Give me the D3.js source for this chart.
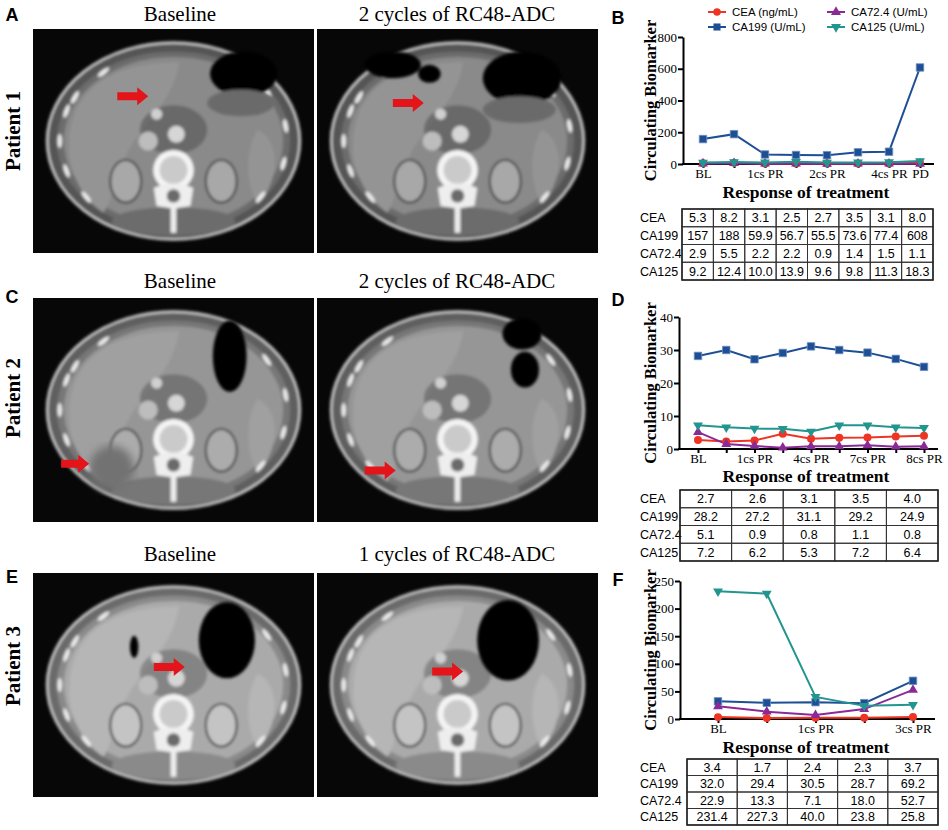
<!DOCTYPE html>
<html>
<head>
<meta charset="utf-8">
<script src="https://cdn.jsdelivr.net/npm/d3@7"></script>
<style>
  html, body { margin: 0; padding: 0; background: #fff; }
  svg { display: block; }
</style>
</head>
<body>
<div id="chart"></div>
<script>
// ---- data ----
const seriesNames = ['CEA', 'CA199', 'CA72.4', 'CA125'];
const legendNames = ['CEA (ng/mL)', 'CA199 (U/mL)', 'CA72.4 (U/mL)', 'CA125 (U/mL)'];

// patient 1
const p1Labels = ['BL', '', '1cs PR', '', '2cs PR', '', '4cs PR', 'PD'];
const p1CEA = [5.3, 8.2, 3.1, 2.5, 2.7, 3.5, 3.1, 8.0];
const p1CA199 = [157, 188, 59.9, 56.7, 55.5, 73.6, 77.4, 608];
const p1CA724 = [2.9, 5.5, 2.2, 2.2, 0.9, 1.4, 1.5, 1.1];
const p1CA125 = [9.2, 12.4, 10.0, 13.9, 9.6, 9.8, 11.3, 18.3];
const p1Ticks = [0, 200, 400, 600, 800];

// patient 2 (curve has 9 points, table lists the labelled ones)
const p2Labels = ['BL', '', '1cs PR', '', '4cs PR', '', '7cs PR', '', '8cs PR'];
const p2CEA = [2.7, 2.3, 2.6, 4.6, 3.1, 3.4, 3.5, 3.8, 4.0];
const p2CA199 = [28.2, 30.0, 27.2, 29.1, 31.1, 30.0, 29.2, 27.3, 24.9];
const p2CA724 = [5.1, 1.5, 0.9, 0.4, 0.8, 0.8, 1.1, 0.7, 0.8];
const p2CA125 = [7.2, 6.6, 6.2, 6.1, 5.3, 7.2, 7.2, 6.6, 6.4];
const p2Ticks = [0, 10, 20, 30, 40];
const p2TableCEA = ['2.7', '2.6', '3.1', '3.5', '4.0'];
const p2TableCA199 = ['28.2', '27.2', '31.1', '29.2', '24.9'];
const p2TableCA724 = ['5.1', '0.9', '0.8', '1.1', '0.8'];
const p2TableCA125 = ['7.2', '6.2', '5.3', '7.2', '6.4'];

// patient 3
const p3Labels = ['BL', '', '1cs PR', '', '3cs PR'];
const p3CEA = [3.4, 1.7, 2.4, 2.3, 3.7];
const p3CA199 = [32.0, 29.4, 30.5, 28.7, 69.2];
const p3CA724 = [22.9, 13.3, 7.1, 18.0, 52.7];
const p3CA125 = [231.4, 227.3, 40.0, 23.8, 25.8];
const p3Ticks = [0, 50, 100, 150, 200, 250];

const colors = ['#ee3524', '#1d4f95', '#8a2a96', '#23958f'];
const symbols = [d3.symbolCircle, d3.symbolSquare, d3.symbolTriangle, d3.symbolTriangle];

const serif = '"Liberation Serif", "Times New Roman", serif';
const sans = '"Liberation Sans", Arial, sans-serif';

// ---- canvas ----
const W = 948, H = 830;
const svg = d3.select('#chart').append('svg')
    .attr('width', W).attr('height', H)
    .attr('viewBox', [0, 0, W, H]);
const defs = svg.append('defs');
defs.append('filter').attr('id', 'soft')
    .append('feGaussianBlur').attr('stdDeviation', 1.4);
defs.append('filter').attr('id', 'soft2')
    .append('feGaussianBlur').attr('stdDeviation', 4);

// ---- CT slices (illustrative) ----
let ctCount = 0;
function drawCT(x, y, w, h, o) {
    const id = 'ctclip' + (++ctCount);
    defs.append('clipPath').attr('id', id)
        .append('rect').attr('width', w).attr('height', h);
    const g = svg.append('g')
        .attr('transform', `translate(${x},${y})`)
        .attr('clip-path', `url(#${id})`);
    const X = f => f * w, Y = f => f * h;

    g.append('rect').attr('width', w).attr('height', h).attr('fill', '#070707');

    const s = g.append('g').attr('filter', 'url(#soft)');
    // skin / subcutaneous fat
    s.append('ellipse')
        .attr('cx', X(.5)).attr('cy', Y(.5))
        .attr('rx', X(.45)).attr('ry', Y(.44))
        .attr('fill', o.fat).attr('stroke', '#cfcfcf').attr('stroke-width', 2.5);
    // abdominal wall
    s.append('ellipse')
        .attr('cx', X(.5)).attr('cy', Y(.5))
        .attr('rx', X(.415)).attr('ry', Y(.4))
        .attr('fill', o.wall);
    // cavity
    s.append('ellipse')
        .attr('cx', X(.5)).attr('cy', Y(.5))
        .attr('rx', X(.39)).attr('ry', Y(.375))
        .attr('fill', o.organ);
    // liver (brighter, right side of patient = left of image)
    s.append('path')
        .attr('d', `M${X(.13)},${Y(.5)} C${X(.14)},${Y(.25)} ${X(.3)},${Y(.15)} ${X(.52)},${Y(.15)}
                    C${X(.5)},${Y(.3)} ${X(.42)},${Y(.4)} ${X(.36)},${Y(.5)}
                    C${X(.3)},${Y(.6)} ${X(.28)},${Y(.78)} ${X(.25)},${Y(.82)}
                    C${X(.17)},${Y(.75)} ${X(.12)},${Y(.62)} ${X(.13)},${Y(.5)} Z`)
        .attr('fill', o.liver);
    // spleen
    s.append('path')
        .attr('d', `M${X(.8)},${Y(.45)} C${X(.88)},${Y(.5)} ${X(.88)},${Y(.68)} ${X(.8)},${Y(.78)}
                    C${X(.76)},${Y(.7)} ${X(.75)},${Y(.55)} ${X(.8)},${Y(.45)} Z`)
        .attr('fill', o.liver);
    // back muscles
    s.append('ellipse')
        .attr('cx', X(.5)).attr('cy', Y(.86))
        .attr('rx', X(.22)).attr('ry', Y(.065))
        .attr('fill', o.wall);
    // ribs along the rim
    const ribAngles = [-150, -128, -60, -35, -10, 15, 40, 140, 160, 180, 200];
    ribAngles.forEach(a => {
        const r = a * Math.PI / 180;
        const rx = X(.5) + Math.cos(r) * X(.405), ry = Y(.5) + Math.sin(r) * Y(.39);
        s.append('ellipse')
            .attr('cx', rx).attr('cy', ry)
            .attr('rx', 2.2).attr('ry', 7)
            .attr('transform', `rotate(${a},${rx},${ry})`)
            .attr('fill', '#ededed');
    });
    // mesenteric fat around the vessels
    s.append('ellipse')
        .attr('cx', X(.5)).attr('cy', Y(.45))
        .attr('rx', X(.12)).attr('ry', Y(.11))
        .attr('fill', o.fat).attr('opacity', .6);
    // kidneys
    [[.33, .68], [.67, .68]].forEach(([kx, ky]) => {
        s.append('ellipse')
            .attr('cx', X(kx)).attr('cy', Y(ky))
            .attr('rx', X(.055)).attr('ry', Y(.095))
            .attr('fill', o.kidney).attr('stroke', '#3e3e3e').attr('stroke-width', 2);
    });
    // aorta and IVC
    s.append('circle').attr('cx', X(.51)).attr('cy', Y(.47)).attr('r', X(.03)).attr('fill', '#d6d6d6');
    s.append('circle').attr('cx', X(.41)).attr('cy', Y(.5)).attr('r', X(.034)).attr('fill', '#bdbdbd');
    s.append('circle').attr('cx', X(.44)).attr('cy', Y(.38)).attr('r', X(.02)).attr('fill', '#d0d0d0');
    // vertebra
    s.append('circle').attr('cx', X(.5)).attr('cy', Y(.63)).attr('r', X(.072)).attr('fill', '#f4f4f4');
    s.append('circle').attr('cx', X(.5)).attr('cy', Y(.63)).attr('r', X(.05)).attr('fill', '#cacaca');
    s.append('path')
        .attr('d', `M${X(.43)},${Y(.71)} Q${X(.5)},${Y(.67)} ${X(.57)},${Y(.71)} L${X(.56)},${Y(.79)} L${X(.51)},${Y(.8)} L${X(.51)},${Y(.91)} L${X(.49)},${Y(.91)} L${X(.49)},${Y(.8)} L${X(.44)},${Y(.79)} Z`)
        .attr('fill', '#eeeeee');
    s.append('circle').attr('cx', X(.5)).attr('cy', Y(.745)).attr('r', X(.024)).attr('fill', '#6a6a6a');

    // lesion
    if (o.lesion) {
        g.append('ellipse')
            .attr('cx', X(o.lesion[0])).attr('cy', Y(o.lesion[1]))
            .attr('rx', X(o.lesion[2])).attr('ry', Y(o.lesion[3]))
            .attr('fill', '#727272').attr('filter', 'url(#soft2)');
    }
    // gas (stomach / bowel)
    const a = g.append('g').attr('filter', 'url(#soft)');
    o.air.forEach(([cx, cy, rx, ry]) => {
        a.append('ellipse')
            .attr('cx', X(cx)).attr('cy', Y(cy))
            .attr('rx', X(rx)).attr('ry', Y(ry))
            .attr('fill', '#050505');
    });
    if (o.fluid) {
        const [cx, cy, rx, ry] = o.fluid;
        a.append('ellipse')
            .attr('cx', X(cx)).attr('cy', Y(cy))
            .attr('rx', X(rx)).attr('ry', Y(ry))
            .attr('fill', '#6b6b6b');
    }

    // red arrow
    const [ax0, ax1, ay] = o.arrow;
    const x0 = X(ax0), x1 = X(ax1), yc = Y(ay);
    g.append('path')
        .attr('d', `M${x0},${yc - 4}L${x1 - 11},${yc - 4}L${x1 - 11},${yc - 9}L${x1},${yc}L${x1 - 11},${yc + 9}L${x1 - 11},${yc + 4}L${x0},${yc + 4}Z`)
        .attr('fill', '#e4141b');
}

const imgL = 33, imgR = 317, imgW = 281;
const rowTops = [29, 298, 573];
const imgH = 224;

// patient 1
drawCT(imgL, rowTops[0], imgW, imgH, {
    fat: '#545454', wall: '#6c6c6c', organ: '#8a8a8a', liver: '#949494', kidney: '#a8a8a8',
    air: [[.75, .2, .12, .1]], fluid: [.74, .33, .12, .06],
    arrow: [.3, .41, .3]
});
drawCT(imgR, rowTops[0], imgW, imgH, {
    fat: '#545454', wall: '#6c6c6c', organ: '#8a8a8a', liver: '#949494', kidney: '#a8a8a8',
    air: [[.73, .22, .14, .12], [.27, .16, .1, .06], [.4, .2, .04, .04]],
    fluid: [.72, .36, .13, .06],
    arrow: [.27, .38, .33]
});
// patient 2
drawCT(imgL, rowTops[1], imgW, imgH, {
    fat: '#5e5e5e', wall: '#777', organ: '#969696', liver: '#a0a0a0', kidney: '#acacac',
    air: [[.7, .26, .06, .16]],
    lesion: [.28, .76, .08, .1],
    arrow: [.1, .2, .74]
});
drawCT(imgR, rowTops[1], imgW, imgH, {
    fat: '#5e5e5e', wall: '#777', organ: '#969696', liver: '#a0a0a0', kidney: '#acacac',
    air: [[.73, .16, .07, .07], [.74, .32, .05, .08]],
    arrow: [.17, .28, .77]
});
// patient 3
drawCT(imgL, rowTops[2], imgW, imgH, {
    fat: '#6a6a6a', wall: '#8a8a8a', organ: '#aaaaaa', liver: '#b6b6b6', kidney: '#c4c4c4',
    air: [[.69, .3, .1, .17], [.36, .33, .015, .05]],
    arrow: [.43, .54, .42]
});
drawCT(imgR, rowTops[2], imgW, imgH, {
    fat: '#6a6a6a', wall: '#8a8a8a', organ: '#aaaaaa', liver: '#b6b6b6', kidney: '#c4c4c4',
    air: [[.68, .3, .11, .18]],
    arrow: [.41, .52, .44]
});

// ---- image titles, panel letters, patient labels ----
const titles = [
    ['Baseline', '2 cycles of RC48-ADC', 14],
    ['Baseline', '2 cycles of RC48-ADC', 281],
    ['Baseline', '1 cycles of RC48-ADC', 554]
];
titles.forEach(([t1, t2, ty]) => {
    svg.append('text').attr('x', 180).attr('y', ty).attr('dy', '0.35em')
        .attr('text-anchor', 'middle').attr('font-family', serif).attr('font-size', 21).text(t1);
    svg.append('text').attr('x', 457).attr('y', ty).attr('dy', '0.35em')
        .attr('text-anchor', 'middle').attr('font-family', serif).attr('font-size', 21).text(t2);
});

const letters = [['A', 12, 15], ['B', 618, 18], ['C', 12, 297], ['D', 618, 300], ['E', 12, 577], ['F', 618, 580]];
letters.forEach(([t, lx, ly]) => {
    svg.append('text').attr('x', lx).attr('y', ly).attr('dy', '0.35em')
        .attr('text-anchor', 'middle').attr('font-family', sans).attr('font-weight', 'bold')
        .attr('font-size', 18).text(t);
});

const patients = [['Patient 1', 131], ['Patient 2', 398], ['Patient 3', 666]];
patients.forEach(([t, py]) => {
    svg.append('text')
        .attr('transform', `translate(13,${py}) rotate(-90)`)
        .attr('dy', '0.35em').attr('text-anchor', 'middle')
        .attr('font-family', serif).attr('font-weight', 'bold').attr('font-size', 21).text(t);
});

// ---- line charts ----
function lineChart(cfg) {
    const g = svg.append('g');
    const n = cfg.labels.length;
    const x = d3.scalePoint().domain(d3.range(n)).range([cfg.x0, cfg.x1]);
    const y = d3.scaleLinear().domain([0, cfg.yMax]).range([cfg.bottom, cfg.top]);

    // y axis
    const ya = g.append('g').attr('transform', `translate(${cfg.left},0)`)
        .call(d3.axisLeft(y).tickValues(cfg.ticks).tickSize(5).tickSizeOuter(0));
    ya.attr('font-family', serif);
    ya.select('.domain').attr('stroke-width', 2);
    ya.selectAll('.tick line').attr('stroke-width', 2);
    ya.selectAll('.tick text').attr('font-family', serif).attr('font-size', 13).attr('x', -6);

    // x axis
    const xa = g.append('g').attr('transform', `translate(0,${cfg.bottom})`)
        .call(d3.axisBottom(x).tickFormat(i => cfg.labels[i]).tickSize(4).tickSizeOuter(0));
    xa.attr('font-family', serif);
    xa.select('.domain').remove();
    xa.selectAll('.tick line').attr('stroke-width', 2);
    xa.selectAll('.tick text').attr('font-family', serif).attr('font-size', 13).attr('y', 5);
    g.append('line')
        .attr('x1', cfg.left - 1).attr('x2', cfg.xEnd)
        .attr('y1', cfg.bottom).attr('y2', cfg.bottom)
        .attr('stroke', '#000').attr('stroke-width', 2.2);

    // titles
    g.append('text')
        .attr('transform', `translate(650,${(cfg.top + cfg.bottom) / 2}) rotate(-90)`)
        .attr('dy', '0.35em').attr('text-anchor', 'middle')
        .attr('font-family', serif).attr('font-weight', 'bold').attr('font-size', 16.5)
        .text('Circulating Biomarker');
    g.append('text')
        .attr('x', 806).attr('y', cfg.bottom + cfg.titleGap).attr('dy', '0.35em')
        .attr('text-anchor', 'middle')
        .attr('font-family', serif).attr('font-weight', 'bold').attr('font-size', 17.5)
        .text('Response of treatment');

    // series
    const line = d3.line().x((d, i) => x(i)).y(d => y(d));
    cfg.series.forEach((vals, k) => {
        g.append('path').datum(vals)
            .attr('d', line).attr('fill', 'none')
            .attr('stroke', colors[k]).attr('stroke-width', 2);
    });
    cfg.series.forEach((vals, k) => {
        const size = k === 1 ? 56 : (k === 0 ? 50 : 42);
        g.selectAll(null).data(vals).join('path')
            .attr('d', d3.symbol().type(symbols[k]).size(size))
            .attr('transform', (d, i) => `translate(${x(i)},${y(d)})${k === 3 ? ' rotate(180)' : ''}`)
            .attr('fill', colors[k])
            .attr('stroke', k === 1 ? '#6f8fc0' : 'none').attr('stroke-width', 0.8);
    });
}

lineChart({
    labels: p1Labels, series: [p1CEA, p1CA199, p1CA724, p1CA125],
    yMax: 800, ticks: p1Ticks, titleGap: 28,
    left: 683, top: 37, bottom: 164, x0: 703, x1: 920, xEnd: 934
});
lineChart({
    labels: p2Labels, series: [p2CEA, p2CA199, p2CA724, p2CA125],
    yMax: 40, ticks: p2Ticks, titleGap: 27,
    left: 679, top: 317, bottom: 449, x0: 698, x1: 924, xEnd: 938
});
lineChart({
    labels: p3Labels, series: [p3CEA, p3CA199, p3CA724, p3CA125],
    yMax: 250, ticks: p3Ticks, titleGap: 28,
    left: 680, top: 581, bottom: 719, x0: 718, x1: 913, xEnd: 935
});

// ---- legend (panel B) ----
const legendPos = [[708, 12], [708, 27], [827, 12], [827, 27]];
legendNames.forEach((name, k) => {
    const [lx, ly] = legendPos[k];
    const lg = svg.append('g').attr('transform', `translate(${lx},${ly})`);
    lg.append('line').attr('x1', 0).attr('x2', 18).attr('stroke', colors[k]).attr('stroke-width', 2);
    lg.append('path')
        .attr('d', d3.symbol().type(symbols[k]).size(k === 1 ? 50 : 44))
        .attr('transform', `translate(9,0)${k === 3 ? ' rotate(180)' : ''}`)
        .attr('fill', colors[k]);
    lg.append('text').attr('x', 24).attr('dy', '0.35em')
        .attr('font-family', sans).attr('font-size', 11.5).text(name);
});

// ---- value tables ----
function fmt(v) { return v >= 100 ? String(v) : v.toFixed(1); }
function table(rows, left, right, top, bottom) {
    const g = svg.append('g');
    const nCols = rows[0].length;
    const cx = d3.scaleBand().domain(d3.range(nCols)).range([left, right]);
    const ry = d3.scaleBand().domain(d3.range(rows.length)).range([top, bottom]);
    rows.forEach((vals, r) => {
        g.append('text').attr('x', 640).attr('y', ry(r) + ry.bandwidth() / 2).attr('dy', '0.36em')
            .attr('font-family', sans).attr('font-size', 12.5).text(seriesNames[r]);
        vals.forEach((v, c) => {
            g.append('rect')
                .attr('x', cx(c)).attr('y', ry(r))
                .attr('width', cx.bandwidth()).attr('height', ry.bandwidth())
                .attr('fill', 'none').attr('stroke', '#333').attr('stroke-width', 1);
            g.append('text')
                .attr('x', cx(c) + cx.bandwidth() / 2).attr('y', ry(r) + ry.bandwidth() / 2)
                .attr('dy', '0.36em').attr('text-anchor', 'middle')
                .attr('font-family', sans).attr('font-size', 12.5).text(v);
        });
    });
    g.append('rect').attr('x', left).attr('y', top)
        .attr('width', right - left).attr('height', bottom - top)
        .attr('fill', 'none').attr('stroke', '#222').attr('stroke-width', 1.5);
}

table([p1CEA, p1CA199, p1CA724, p1CA125].map(a => a.map(fmt)), 682, 933, 209, 280);
table([p2TableCEA, p2TableCA199, p2TableCA724, p2TableCA125], 680, 938, 490, 561);
table([p3CEA, p3CA199, p3CA724, p3CA125].map(a => a.map(fmt)), 687, 938, 759, 825);
</script>
</body>
</html>
